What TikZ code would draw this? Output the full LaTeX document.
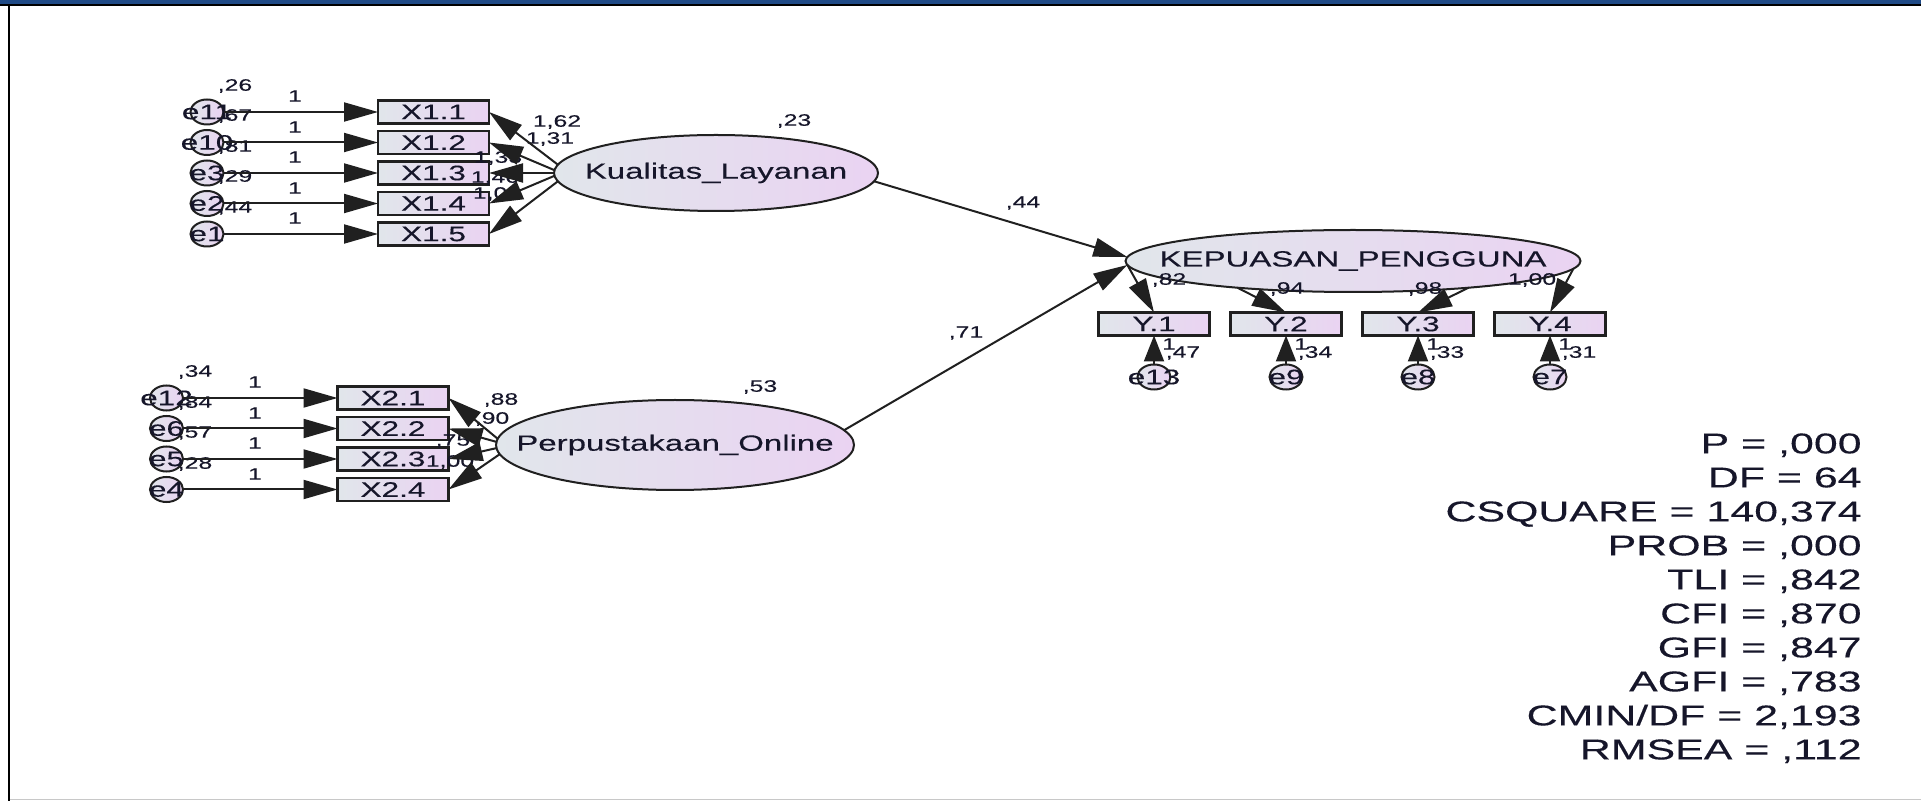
\documentclass[tikz,border=0pt]{standalone}
\usepackage{fontspec}
\setmainfont{Liberation Sans}[FakeStretch=1.5,FakeBold=0.25]
\usepackage{tikz}
\usetikzlibrary{arrows.meta,positioning,shapes.geometric}
\definecolor{Ink}{HTML}{16162A}
\definecolor{Edge}{HTML}{202020}
\definecolor{FillL}{HTML}{E1E6EB}
\definecolor{FillR}{HTML}{EAD3F2}
\definecolor{Bar}{HTML}{1F4A86}
\definecolor{Rule}{HTML}{C8C8C8}
\newcommand{\nb}[1]{\makebox[0pt]{#1}}

\begin{document}
\begin{tikzpicture}[x=0.5pt,y=-0.5pt,
    obs/.style={draw=Edge,line width=1.2pt,left color=FillL,right color=FillR,minimum width=55.5pt,minimum height=11.5pt,inner sep=0pt,outer sep=0pt,font=\fontsize{10.5}{12}\selectfont,text=Ink},
    err/.style={ellipse,draw=Edge,line width=1pt,left color=FillL,right color=FillR,minimum width=16.5pt,minimum height=12.5pt,inner sep=0pt,outer sep=0pt,font=\fontsize{10.5}{12}\selectfont,text=Ink},
    lat/.style={ellipse,draw=Edge,line width=1pt,left color=FillL,right color=FillR,inner sep=0pt,outer sep=0pt,font=\fontsize{11}{13}\selectfont,text=Ink},
    lbl/.style={inner sep=0pt,font=\fontsize{8.25}{10}\selectfont,text=Ink},
    a/.style={-{Triangle[length=17pt,width=9.5pt]},line width=1pt,draw=Edge},
    ay/.style={-{Triangle[length=13pt,width=10pt]},line width=1pt,draw=Edge}]
    \useasboundingbox (0,0) rectangle (1921,801);
    % window frame
    \fill[white] (0,0) rectangle (1921,801);
    \fill[Bar] (0,0) rectangle (1921,4);
    \fill[black] (0,4) rectangle (1921,6.5);
    \fill[black] (7.5,4) rectangle (10,801);
    \fill[Rule] (10,798.5) rectangle (1921,800);
    % latent variables
    \node[lat,minimum width=162pt,minimum height=38pt] (kl) at (716,173) {\nb{Kualitas\_Layanan}};
    \node[lat,minimum width=179pt,minimum height=45pt] (po) at (675,445) {\nb{Perpustakaan\_Online}};
    \node[lat,minimum width=227.5pt,minimum height=31pt] (kep) at (1353,261) {\nb{KEPUASAN\_PENGGUNA}};
    % indicators X1
    \node[obs] (x11) at (433.5,112) {X1.1};
    \node[obs,below=3.75pt of x11] (x12) {X1.2};
    \node[obs,below=3.75pt of x12] (x13) {X1.3};
    \node[obs,below=3.75pt of x13] (x14) {X1.4};
    \node[obs,below=3.75pt of x14] (x15) {X1.5};
    \node[err,left=77.25pt of x11] (e11) {\nb{e11}};
    \node[err,left=77.25pt of x12] (e10) {\nb{e10}};
    \node[err,left=77.25pt of x13] (e3) {\nb{e3}};
    \node[err,left=77.25pt of x14] (e2) {\nb{e2}};
    \node[err,left=77.25pt of x15] (e1) {\nb{e1}};
    % indicators X2
    \node[obs] (x21) at (393,398) {X2.1};
    \node[obs,below=3.75pt of x21] (x22) {X2.2};
    \node[obs,below=3.75pt of x22] (x23) {X2.3};
    \node[obs,below=3.75pt of x23] (x24) {X2.4};
    \node[err,left=77.25pt of x21] (e12) {\nb{e12}};
    \node[err,left=77.25pt of x22] (e6) {\nb{e6}};
    \node[err,left=77.25pt of x23] (e5) {\nb{e5}};
    \node[err,left=77.25pt of x24] (e4) {\nb{e4}};
    % indicators Y
    \node[obs] (y1) at (1154,324) {Y.1};
    \node[obs,right=10.5pt of y1] (y2) {Y.2};
    \node[obs,right=10.5pt of y2] (y3) {Y.3};
    \node[obs,right=10.5pt of y3] (y4) {Y.4};
    \node[err,below=14.5pt of y1] (e13) {\nb{e13}};
    \node[err,below=14.5pt of y2] (e9) {\nb{e9}};
    \node[err,below=14.5pt of y3] (e8) {\nb{e8}};
    \node[err,below=14.5pt of y4] (e7) {\nb{e7}};
    % estimates
    \node[lbl] (v11) at (235,86) {,26}; \node[lbl] (v10) at (235,116) {,67}; \node[lbl] (v3) at (235,147) {,81};
    \node[lbl] (v2) at (235,177) {,29}; \node[lbl] (v1) at (235,208) {,44};
    \node[lbl] (f11) at (295,96) {1}; \node[lbl] (f10) at (295,127) {1}; \node[lbl] (f3) at (295,157) {1};
    \node[lbl] (f2) at (295,188) {1}; \node[lbl] (f1) at (295,218) {1};
    \node[lbl] (v12) at (195,372) {,34}; \node[lbl] (v6) at (195,403) {,84}; \node[lbl] (v5) at (195,433) {,57}; \node[lbl] (v4) at (195,464) {,28};
    \node[lbl] (f12) at (255,382) {1}; \node[lbl] (f6) at (255,413) {1}; \node[lbl] (f5) at (255,443) {1}; \node[lbl] (f4) at (255,474) {1};
    \node[lbl] (l11) at (557,122) {1,62}; \node[lbl] (l12) at (550,139) {1,31}; \node[lbl] (l13) at (498,158) {1,33};
    \node[lbl] (l14) at (495,178) {1,46}; \node[lbl] (l15) at (497,194) {1,00};
    \node[lbl] (l21) at (501,400) {,88}; \node[lbl] (l22) at (492,419) {,90}; \node[lbl] (l23) at (453,441) {,75}; \node[lbl] (l24) at (450,462) {1,00};
    \node[lbl] (ly1) at (1169,280) {,82}; \node[lbl] (ly2) at (1287,289) {,94}; \node[lbl] (ly3) at (1425,289) {,98}; \node[lbl] (ly4) at (1532,280) {1,00};
    \node[lbl] (fy1) at (1169,344) {1}; \node[lbl] (fy2) at (1301,344) {1}; \node[lbl] (fy3) at (1433,344) {1}; \node[lbl] (fy4) at (1565,344) {1};
    \node[lbl] (vy1) at (1183,353) {,47}; \node[lbl] (vy2) at (1315,353) {,34}; \node[lbl] (vy3) at (1447,353) {,33}; \node[lbl] (vy4) at (1579,353) {,31};
    \node[lbl] (rkl) at (794,121) {,23}; \node[lbl] (rpo) at (760,387) {,53};
    \node[lbl] (b1) at (1023,203) {,44}; \node[lbl] (b2) at (966,333) {,71};
    % paths
    \draw[a] (e11)--(x11); \draw[a] (e10)--(x12); \draw[a] (e3)--(x13); \draw[a] (e2)--(x14); \draw[a] (e1)--(x15);
    \draw[a] (e12)--(x21); \draw[a] (e6)--(x22); \draw[a] (e5)--(x23); \draw[a] (e4)--(x24);
    \draw[ay] (e13)--(y1); \draw[ay] (e9)--(y2); \draw[ay] (e8)--(y3); \draw[ay] (e7)--(y4);
    \draw[a] (kl.177)--(x11.east); \draw[a] (kl.179)--(x12.east); \draw[a] (kl.180)--(x13.east);
    \draw[a] (kl.181)--(x14.east); \draw[a] (kl.183)--(x15.east);
    \draw[a] (po.178)--(x21.east); \draw[a] (po.179)--(x22.east); \draw[a] (po.181)--(x23.east); \draw[a] (po.183)--(x24.east);
    \draw[a] (kep.181.5)--(y1.north); \draw[a] (kep.193)--(y2.north); \draw[a] (kep.347)--(y3.north); \draw[a] (kep.358)--(y4.north);
    \draw[a] (kl.-3)--(kep.179); \draw[a] (po.5)--(kep.181);
    % fit indices
    \node[inner sep=0pt,align=right,anchor=north east,font=\fontsize{14.3}{17}\selectfont,text=Ink] (gof) at (1862,433)
      {P = ,000\\DF = 64\\CSQUARE = 140,374\\PROB = ,000\\TLI = ,842\\CFI = ,870\\GFI = ,847\\AGFI = ,783\\CMIN/DF = 2,193\\RMSEA = ,112};
  \end{tikzpicture}
\end{document}
